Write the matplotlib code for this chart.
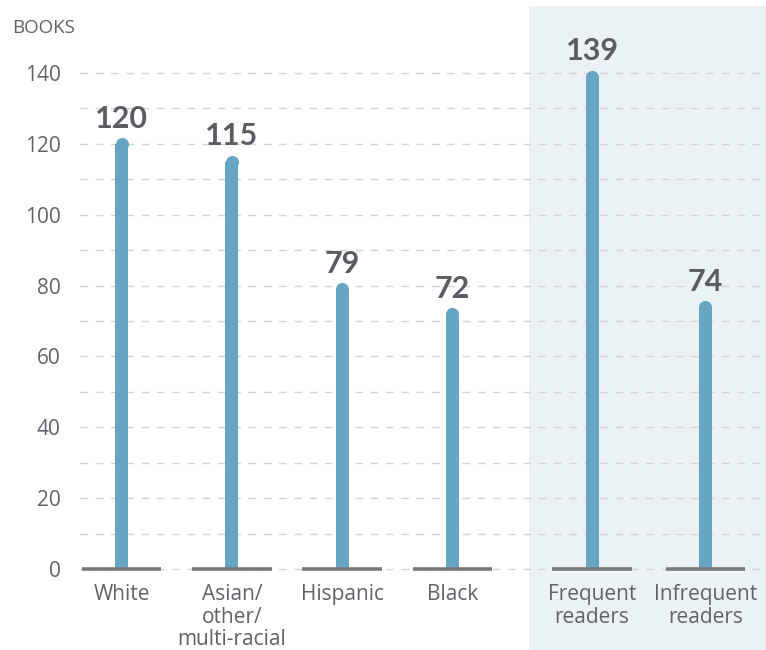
import numpy as np
import matplotlib
matplotlib.use('Agg')
import matplotlib.pyplot as plt
from matplotlib.patches import Rectangle
from matplotlib.transforms import blended_transform_factory

plt.rcParams['font.family'] = ['Open Sans', 'DejaVu Sans']

# data
categories = ['White', 'Asian/\nother/\nmulti-racial', 'Hispanic', 'Black',
              'Frequent\nreaders', 'Infrequent\nreaders']
books = [120, 115, 79, 72, 139, 74]
y_ticks = [0, 20, 40, 60, 80, 100, 120, 140]

BAR_COLOR = '#67a6c3'
TEXT_COLOR = '#5f6367'
LABEL_COLOR = '#595d62'
SHADE = '#ebf2f6'

# the reader groups sit a little apart from the race/ethnicity groups
x = np.arange(len(categories)) + np.array([0, 0, 0, 0, 0.27, 0.30])

W, H = 766, 650
fig = plt.figure(figsize=(W / 100, H / 100), dpi=100)
ax = fig.add_axes([80 / W, (H - 569) / H, 686 / W, 496 / H])
ax.set_xlim(-0.38, 5.85)
ax.set_ylim(0, 140)

# shaded panel behind the reader groups
trans = blended_transform_factory(ax.transData, ax.transAxes)
ax.add_patch(Rectangle((3.70, -0.165), 3.0, 1.30, transform=trans,
                       facecolor=SHADE, edgecolor='none', clip_on=False, zorder=0))

# dashed gridlines every 10 books
for yv in range(0, 141, 10):
    ax.axhline(yv, color='#d2d4d6', lw=1.0, dashes=(5.5, 5.5), zorder=1, clip_on=False)

# bars with rounded tops
bar_w = 0.118
ax.bar(x, books, width=bar_w, color=BAR_COLOR, zorder=3, clip_on=False)
ax.plot(x, books, 'o', ms=9.4, color=BAR_COLOR, mec='none', zorder=3, clip_on=False)

# baseline segments under each bar
ax.hlines([0] * len(x), x - 0.36, x + 0.36, color='#77797c', lw=2.6, zorder=4, clip_on=False)

for xi, v in zip(x, books):
    ax.annotate(str(v), (xi, v), xytext=(0, 8), textcoords='offset points',
                ha='center', va='bottom', fontsize=22, fontweight='bold',
                family=['Lato', 'DejaVu Sans'],
                color=LABEL_COLOR, annotation_clip=False)

for xi, lab in zip(x, categories):
    ax.annotate(lab, (xi, 0), xytext=(0, -11), textcoords='offset points',
                ha='center', va='top', fontsize=15, color=TEXT_COLOR,
                linespacing=1.1, annotation_clip=False)

ax.set_xticks([])
ax.set_yticks(y_ticks)
ax.set_yticklabels([str(t) for t in y_ticks], fontsize=15, color=TEXT_COLOR)
ax.tick_params(axis='y', length=0, pad=14)
for s in ax.spines.values():
    s.set_visible(False)
ax.patch.set_alpha(0)

fig.text(12 / W, 1 - 28 / H, 'BOOKS', fontsize=13.5, color=TEXT_COLOR, va='center', ha='left')

fig.savefig('out.png', dpi=100)
